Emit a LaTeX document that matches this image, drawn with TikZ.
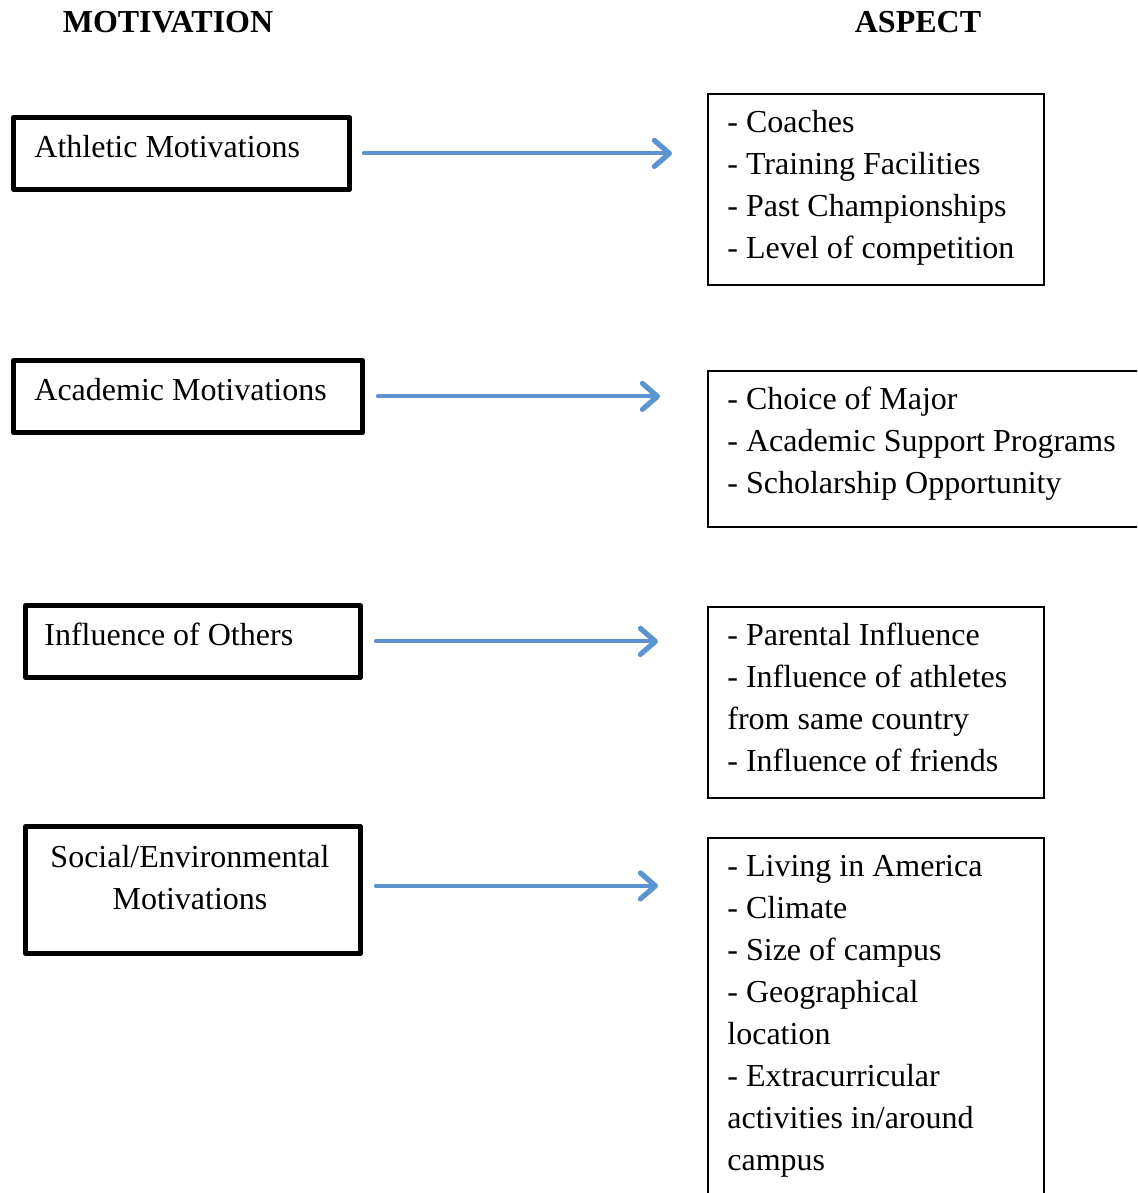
\documentclass[tikz,border=0pt]{standalone}
\usepackage{fontspec}
\setmainfont{Liberation Serif}
\usetikzlibrary{arrows.meta,positioning}
\definecolor{arrowblue}{RGB}{91,148,206}

\begin{document}
\begin{tikzpicture}[x=0.5pt,y=-0.5pt,
  motbox/.style={draw,line width=2.4pt,line join=round,inner sep=0pt,anchor=north west},
  aspbox/.style={draw,line width=1pt,inner sep=0pt,anchor=north west},
  boxtext/.style={inner sep=0pt,anchor=base west,align=left,font=\fontsize{16}{21}\selectfont},
  head/.style={inner sep=0pt,font=\fontsize{16}{21}\selectfont\bfseries},
  link/.style={arrowblue,line width=2pt,line cap=round,-{Straight Barb[length=7.5pt,width=13pt,round,line width=2.6pt]}}]
  \useasboundingbox (0,0) rectangle (1137,1193);
  \clip (0,0) rectangle (1137,1193);
  \node[head] (motiv) at (168,22) {MOTIVATION};
  \node[head] (aspect) at (918,22) {ASPECT};
  \node[motbox,minimum width=168pt,minimum height=36pt] (athl) at (11,115) {};
  \node[motbox,minimum width=174.5pt,minimum height=36pt] (acad) at (11,358) {};
  \node[motbox,minimum width=167.5pt,minimum height=36pt] (infl) at (23,603) {};
  \node[motbox,minimum width=167.5pt,minimum height=63.5pt] (soc) at (23,824) {};
  \node[boxtext] (athl-t) at ([shift={(23,42)}]athl.north west) {Athletic Motivations};
  \node[boxtext] (acad-t) at ([shift={(23,42)}]acad.north west) {Academic Motivations};
  \node[boxtext] (infl-t) at ([shift={(21,42)}]infl.north west) {Influence of Others};
  \node[boxtext,anchor=base,align=center] (soc-t) at ([shift={(167,85)}]soc.north west) {Social/Environmental\\Motivations};
  \node[aspbox,minimum width=168pt,minimum height=95.5pt] (asp1) at (707,93) {};
  \node[aspbox,minimum width=220pt,minimum height=78pt] (asp2) at (707,370) {};
  \node[aspbox,minimum width=168pt,minimum height=95.5pt] (asp3) at (707,606) {};
  \node[aspbox,minimum width=168pt,minimum height=200pt] (asp4) at (707,837) {};
  \node[boxtext] (asp1-t) at ([shift={(20,165)}]asp1.north west) {- Coaches\\- Training Facilities\\- Past Championships\\- Level of competition};
  \node[boxtext] (asp2-t) at ([shift={(20,123)}]asp2.north west) {- Choice of Major\\- Academic Support Programs\\- Scholarship Opportunity};
  \node[boxtext] (asp3-t) at ([shift={(20,165)}]asp3.north west) {- Parental Influence\\- Influence of athletes\\from same country\\- Influence of friends};
  \node[boxtext] (asp4-t) at ([shift={(20,333)}]asp4.north west) {- Living in America\\- Climate\\- Size of campus\\- Geographical\\location\\- Extracurricular\\activities in/around\\campus};
  \draw[link,shorten <=6pt,shorten >=17.5pt] (athl.east) -- (athl.east -| asp1.west);
  \draw[link,shorten <=6.5pt,shorten >=23.5pt] (acad.east) -- (acad.east -| asp2.west);
  \draw[link,shorten <=6.5pt,shorten >=24.5pt] (infl.east) -- (infl.east -| asp3.west);
  \draw[link,shorten <=6.5pt,shorten >=24.5pt] ([yshift=2pt]soc.east) -- ([yshift=2pt]soc.east -| asp4.west);
\end{tikzpicture}
\end{document}
